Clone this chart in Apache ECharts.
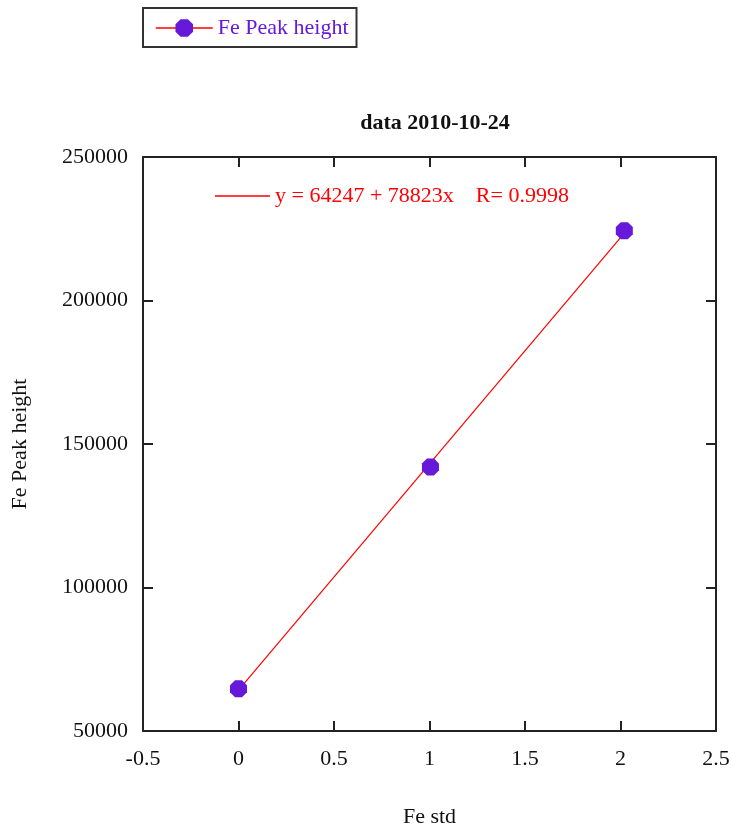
<!DOCTYPE html>
<html>
<head>
<meta charset="utf-8">
<script src="https://cdn.jsdelivr.net/npm/echarts@6/dist/echarts.min.js"></script>
<style>
html,body{margin:0;padding:0;background:#fff;}
#chart{width:733px;height:827px;}
</style>
</head>
<body>
<div id="chart"></div>
<script>
// ---- data ----
var seriesName = 'Fe Peak height';
var feStd = [0, 1.005, 2.02];
var feHeight = [64730, 141970, 224346];
var fitName = 'y = 64247 + 78823x    R= 0.9998';
var fitX = [0, 2.02];
var fitY = [64247, 223469];
var xTicks = { min: -0.5, max: 2.5, interval: 0.5 };
var yTicks = { min: 50000, max: 250000, interval: 50000 };
var titleText = 'data 2010-10-24';
var xName = 'Fe std';
var yName = 'Fe Peak height';

var FONT = 'Liberation Serif';
var PURPLE = '#6619d8';
var RED = '#ff0000';
var AXIS = '#222222';
var octagon = 'path://M-0.414,-1L0.414,-1L1,-0.414L1,0.414L0.414,1L-0.414,1L-1,0.414L-1,-0.414Z';

var pts = feStd.map(function (x, i) { return [x, feHeight[i]]; });
var fitPts = fitX.map(function (x, i) { return [x, fitY[i]]; });

function axisCommon(showLabel, margin) {
  return {
    axisLine: { show: true, onZero: false, lineStyle: { color: AXIS, width: 2 } },
    axisTick: { show: true, inside: true, length: 10, lineStyle: { color: AXIS, width: 2 } },
    axisLabel: {
      show: showLabel, color: '#111', fontFamily: FONT, fontSize: 22, margin: margin,
      formatter: function (v) { return String(v); }
    },
    splitLine: { show: false }
  };
}

var chart = echarts.init(document.getElementById('chart'), null, { renderer: 'canvas' });
var option = {
  backgroundColor: '#ffffff',
  animation: false,
  title: {
    text: titleText,
    left: 430,
    textAlign: 'center',
    top: 107,
    textStyle: { fontFamily: FONT, fontSize: 22, fontWeight: 'bold', color: '#111' }
  },
  grid: { left: 143, right: 17, top: 157, bottom: 96, containLabel: false, outerBoundsMode: 'none' },
  legend: [
    {
      data: [{ name: seriesName, lineStyle: { color: RED, width: 1.5, opacity: 1 } }],
      left: 143, top: 8,
      orient: 'horizontal',
      itemWidth: 57, itemHeight: 22,
      padding: [9, 8, 8, 12],
      borderColor: '#333', borderWidth: 2,
      backgroundColor: '#fff',
      selectedMode: false,
      textStyle: { fontFamily: FONT, fontSize: 22, color: PURPLE }
    },
    {
      data: [{ name: fitName, icon: 'rect' }],
      left: 215, top: 185,
      itemWidth: 55, itemHeight: 1.5,
      padding: 0,
      selectedMode: false,
      textStyle: { fontFamily: FONT, fontSize: 22, color: RED }
    }
  ],
  xAxis: [
    Object.assign({
      type: 'value', position: 'bottom', min: xTicks.min, max: xTicks.max, interval: xTicks.interval,
      name: xName, nameLocation: 'middle', nameGap: 75,
      nameTextStyle: { fontFamily: FONT, fontSize: 22, color: '#111' }
    }, axisCommon(true, 17)),
    Object.assign({
      type: 'value', position: 'top', min: xTicks.min, max: xTicks.max, interval: xTicks.interval
    }, axisCommon(false, 8))
  ],
  yAxis: [
    Object.assign({
      type: 'value', position: 'left', min: yTicks.min, max: yTicks.max, interval: yTicks.interval,
      name: yName, nameLocation: 'middle', nameGap: 112, nameRotate: 90,
      nameTextStyle: { fontFamily: FONT, fontSize: 22, color: '#111' }
    }, axisCommon(true, 15)),
    Object.assign({
      type: 'value', position: 'right', min: yTicks.min, max: yTicks.max, interval: yTicks.interval
    }, axisCommon(false, 8))
  ],
  series: [
    {
      name: fitName,
      type: 'line',
      xAxisIndex: 0, yAxisIndex: 0,
      data: fitPts,
      symbol: 'none',
      lineStyle: { color: RED, width: 1.2 },
      itemStyle: { color: RED },
      z: 2
    },
    {
      name: seriesName,
      type: 'line',
      xAxisIndex: 0, yAxisIndex: 0,
      data: pts,
      symbol: octagon,
      symbolSize: 17,
      itemStyle: { color: PURPLE },
      lineStyle: { color: RED, width: 1.5, opacity: 0 },
      z: 3
    }
  ]
};
chart.setOption(option);
</script>
</body>
</html>
